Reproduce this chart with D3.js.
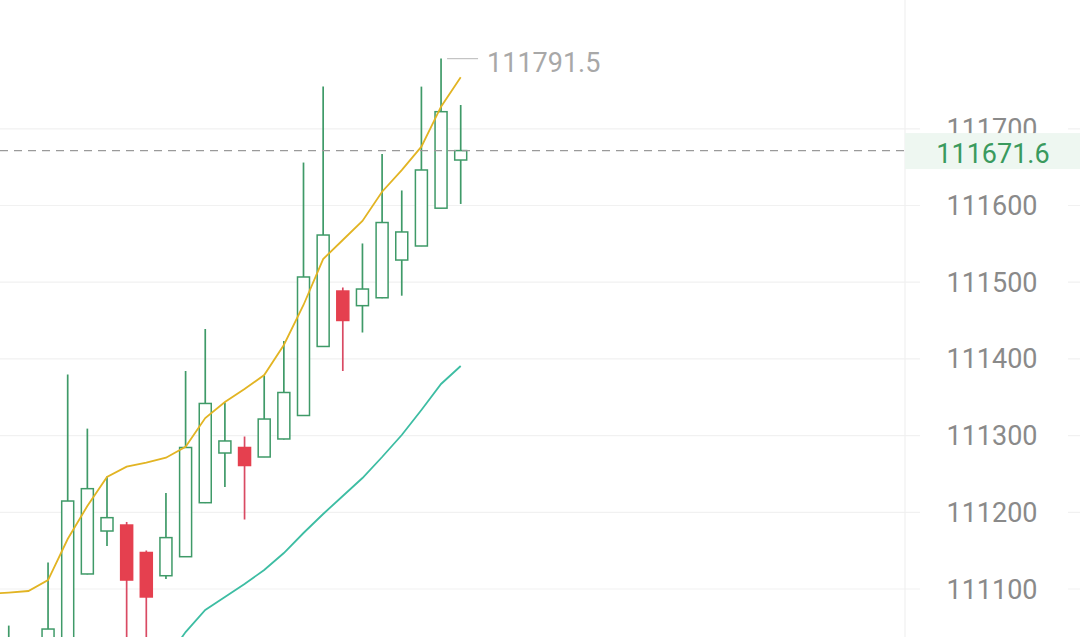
<!DOCTYPE html>
<html>
<head>
<meta charset="utf-8">
<script src="https://cdn.jsdelivr.net/npm/d3@7"></script>
<style>
body { margin: 0; background: #fff; }
svg { display: block; font-family: Roboto, "Noto Sans", sans-serif; }
</style>
</head>
<body>
<svg id="chart"></svg>
<script>
// données (bougies, de gauche à droite)
var opens  = [111020, 110990, 111030, 111010, 111030, 111119.6, 111175.6, 111183.4, 111147.6, 111117.3, 111142.1, 111212.5, 111277.3, 111284.5, 111272.1, 111295.6, 111326.2, 111416.2, 111488.5, 111469.4, 111479.7, 111528.9, 111547.2, 111596.5, 111659.3];
var highs  = [111030, 111052.3, 111034, 111134.4, 111379.5, 111309.1, 111246.7, 111187.4, 111150.2, 111225.2, 111384.2, 111439, 111343.2, 111298.8, 111378.4, 111423.3, 111656, 111755.2, 111493.1, 111550.5, 111667.1, 111619.6, 111755, 111791.5, 111731];
var lows   = [110990, 110970, 110995, 110990, 111020, 111119, 111156, 111020, 111010, 111113, 111142, 111212, 111233, 111190.6, 111272, 111295, 111326, 111416, 111384.2, 111434.4, 111479, 111482.4, 111547, 111596, 111602];
var closes = [111000, 111030, 111010, 111047.8, 111214.7, 111230.8, 111193, 111111.7, 111089.6, 111167, 111284.5, 111341.9, 111293, 111261, 111321.6, 111356.2, 111506.8, 111561.5, 111450.1, 111491.1, 111577.8, 111565.5, 111646.3, 111722.3, 111671.6];

// moyennes mobiles
var maFast = [111093.5, 111095.4, 111097.4, 111111.7, 111165.2, 111208.2, 111246, 111259.5, 111264.7, 111271.2, 111285.5, 111322.9, 111343.8, 111360.7, 111379, 111418.1, 111470.3, 111530.2, 111555, 111579.8, 111618, 111646.2, 111676.7, 111728.8, 111767.1];
var maSlow = [null, null, null, null, null, null, null, null, null, 111007.4, 111043.9, 111072.6, 111089.6, 111106.5, 111124.8, 111146.9, 111173, 111197.8, 111221.3, 111244.7, 111272.1, 111300.8, 111333.4, 111367.3, 111390.7];

var yTicks = [111100, 111200, 111300, 111400, 111500, 111600, 111700];
var lastPrice = 111671.6;
var highPrice = 111791.5;

// paramétrage
var width = 1080;
var height = 637;
var plotRight = 905;
var green = "#3f9a68";
var red = "#e5404f";

var svg = d3.select("#chart")
	.attr("width", width)
	.attr("height", height);

// échelles
var x = d3.scaleLinear()
	.domain([0, closes.length - 1])
	.range([-10.9, 460.7]);

var y = d3.scaleLinear()
	.domain([111100, 111700])
	.range([589, 128.8]);

// grille
svg.append("g")
	.selectAll("line")
	.data(yTicks)
	.enter().append("line")
	.attr("x1", 0)
	.attr("x2", width)
	.attr("y1", function(d){return y(d);})
	.attr("y2", function(d){return y(d);})
	.attr("stroke", "#f1f1f1")
	.attr("stroke-width", 1.2);

svg.append("line")
	.attr("x1", plotRight).attr("x2", plotRight)
	.attr("y1", 0).attr("y2", height)
	.attr("stroke", "#f0f0f0")
	.attr("stroke-width", 1.2);

// axe droit
var axis = svg.append("g").attr("class", "axis");

axis.selectAll("rect")
	.data(yTicks)
	.enter().append("rect")
	.attr("x", 920)
	.attr("y", function(d){return y(d) - 16;})
	.attr("width", 148)
	.attr("height", 32)
	.attr("fill", "#fff");

axis.selectAll("text")
	.data(yTicks)
	.enter().append("text")
	.attr("x", 992)
	.attr("y", function(d){return y(d) + 9.5;})
	.attr("text-anchor", "middle")
	.attr("font-size", "27px")
	.attr("fill", "#8a8a8a")
	.text(function(d){return d;});

// bougies
var idx = d3.range(closes.length);
var plot = svg.append("g");

var candle = plot.selectAll("g")
	.data(idx)
	.enter().append("g");

candle.append("line")
	.attr("x1", function(i){return x(i);})
	.attr("x2", function(i){return x(i);})
	.attr("y1", function(i){return y(highs[i]);})
	.attr("y2", function(i){return y(lows[i]);})
	.attr("stroke", function(i){return closes[i] >= opens[i] ? green : "#d94a63";})
	.attr("stroke-width", 1.7);

candle.append("rect")
	.attr("x", function(i){return x(i) - 6;})
	.attr("y", function(i){return y(Math.max(opens[i], closes[i]));})
	.attr("width", 12)
	.attr("height", function(i){return Math.max(1, Math.abs(y(opens[i]) - y(closes[i])));})
	.attr("fill", function(i){return closes[i] >= opens[i] ? "#fff" : red;})
	.attr("stroke", function(i){return closes[i] >= opens[i] ? green : red;})
	.attr("stroke-width", 1.5);

// lignes MA
var line = d3.line()
	.defined(function(d){return d[1] != null;})
	.x(function(d){return x(d[0]);})
	.y(function(d){return y(d[1]);});

svg.append("path")
	.datum(idx.map(function(i){return [i, maFast[i]];}))
	.attr("d", line)
	.attr("fill", "none")
	.attr("stroke", "#e2b423")
	.attr("stroke-width", 1.8);

svg.append("path")
	.datum(idx.map(function(i){return [i, maSlow[i]];}))
	.attr("d", line)
	.attr("fill", "none")
	.attr("stroke", "#3dbda3")
	.attr("stroke-width", 1.8);

// plus haut
var hi = highs.indexOf(highPrice);
svg.append("line")
	.attr("x1", x(hi) + 6)
	.attr("x2", x(hi) + 37)
	.attr("y1", y(highPrice))
	.attr("y2", y(highPrice))
	.attr("stroke", "#c4c4c4")
	.attr("stroke-width", 1.2);

svg.append("text")
	.attr("x", x(hi) + 46)
	.attr("y", y(highPrice) + 13)
	.attr("font-size", "27px")
	.attr("fill", "#a8a8a8")
	.text(highPrice.toFixed(1));

// prix actuel
svg.append("line")
	.attr("x1", 0)
	.attr("x2", plotRight)
	.attr("y1", y(lastPrice))
	.attr("y2", y(lastPrice))
	.attr("stroke", "#9a9a9a")
	.attr("stroke-width", 1.3)
	.attr("stroke-dasharray", "8,6");

svg.append("rect")
	.attr("x", plotRight)
	.attr("y", y(lastPrice) - 17.5)
	.attr("width", width - plotRight)
	.attr("height", 36)
	.attr("fill", "#eef7f1");

svg.append("text")
	.attr("x", 993)
	.attr("y", y(lastPrice) + 12)
	.attr("text-anchor", "middle")
	.attr("font-size", "27px")
	.attr("fill", "#3a9a5e")
	.text(lastPrice.toFixed(1));
</script>
</body>
</html>
